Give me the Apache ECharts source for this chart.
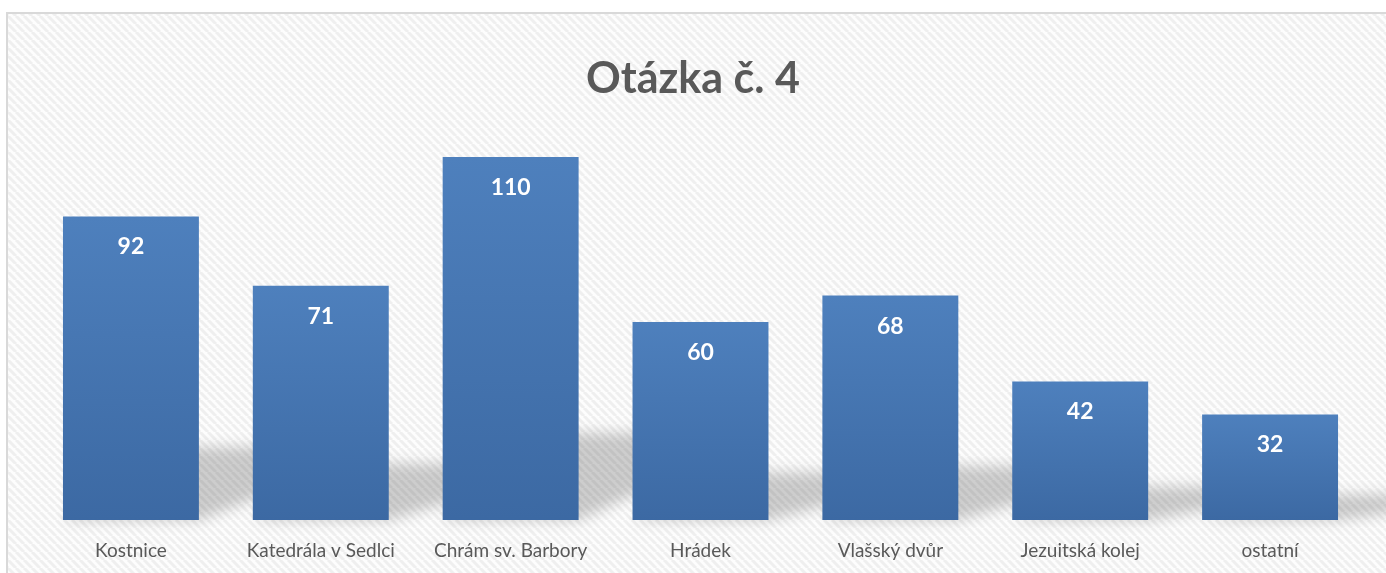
<!DOCTYPE html>
<html>
<head>
<meta charset="utf-8">
<script src="https://cdn.jsdelivr.net/npm/echarts@6/dist/echarts.min.js"></script>
<style>
  html, body { margin: 0; padding: 0; background: #fff; }
  #chart { width: 1386px; height: 573px; }
</style>
</head>
<body>
<div id="chart"></div>
<script>
  // kategorie a hodnoty
  var categories = ['Kostnice', 'Katedrála v Sedlci', 'Chrám sv. Barbory', 'Hrádek', 'Vlašský dvůr', 'Jezuitská kolej', 'ostatní']
  var values = [92, 71, 110, 60, 68, 42, 32]
  var titleText = 'Otázka č. 4'

  // sikme prouzky na pozadi
  function stripes() {
    var c = document.createElement('canvas')
    c.width = 8
    c.height = 8
    var ctx = c.getContext('2d')
    ctx.fillStyle = '#fdfdfd'
    ctx.fillRect(0, 0, 8, 8)
    ctx.strokeStyle = '#efefef'
    ctx.lineWidth = 3
    for (var k = -1; k <= 1; k++) {
      ctx.beginPath()
      ctx.moveTo(k * 8, 0)
      ctx.lineTo(k * 8 + 8, 8)
      ctx.stroke()
    }
    return c
  }

  var barRatio = 0.716
  var myChart = echarts.init(document.getElementById('chart'))

  var option = {
    animation: false,
    title: {
      text: titleText,
      left: 'center',
      top: 53,
      textStyle: { fontFamily: 'Lato', fontWeight: 'bold', fontSize: 43, color: '#595959' }
    },
    graphic: [
      {
        type: 'rect',
        z: -10,
        silent: true,
        shape: { x: 7, y: 13, width: 1400, height: 600 },
        style: { fill: { image: stripes(), repeat: 'repeat' }, stroke: '#d9d9d9', lineWidth: 2 }
      }
    ],
    grid: { left: 36, right: 21, top: 157, bottom: 53 },
    xAxis: {
      type: 'category',
      data: categories,
      axisLine: { show: false },
      axisTick: { show: false },
      axisLabel: { color: '#595959', fontFamily: 'Lato', fontSize: 19, margin: 21, interval: 0 }
    },
    yAxis: {
      type: 'value',
      min: 0,
      max: 110,
      show: false
    },
    series: [
      {
        // stin pod sloupci
        type: 'custom',
        z: 1,
        silent: true,
        data: values.map(function (v, i) { return [i, v] }),
        renderItem: function (params, api) {
          var i = api.value(0)
          var base = api.coord([i, 0])
          var top = api.coord([i, api.value(1)])
          var w = api.size([1, 0])[0] * barRatio
          var h = base[1] - top[1]
          var sh = h * 0.24
          var off = 3000
          var x0 = base[0] - w / 2 - off, x1 = base[0] + w / 2 - off, y = base[1]
          return {
            type: 'polygon',
            shape: { points: [[x0, y], [x1, y], [x1 + 190, y - sh], [x0 + 90, y - sh]] },
            style: {
              fill: '#000',
              shadowColor: 'rgba(0,0,0,0.19)',
              shadowBlur: 14,
              shadowOffsetX: off,
              shadowOffsetY: 0
            }
          }
        }
      },
      {
        type: 'bar',
        z: 3,
        data: values,
        barWidth: (barRatio * 100) + '%',
        itemStyle: {
          color: new echarts.graphic.LinearGradient(0, 0, 0, 1, [
            { offset: 0, color: '#4e80bd' },
            { offset: 1, color: '#3c69a3' }
          ])
        },
        label: {
          show: true,
          position: 'insideTop',
          distance: 19,
          color: '#fff',
          fontFamily: 'Lato',
          fontWeight: 'bold',
          fontSize: 23
        }
      }
    ]
  }
  myChart.setOption(option, true)
</script>
</body>
</html>
